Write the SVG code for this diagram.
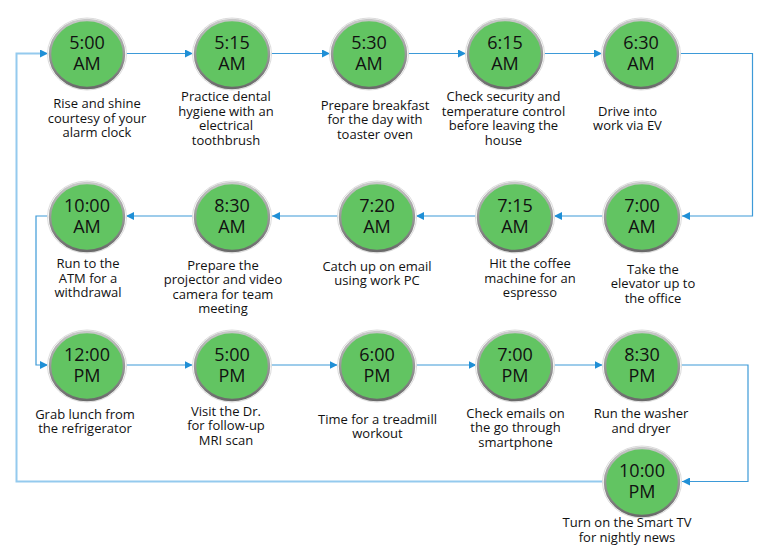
<svg xmlns="http://www.w3.org/2000/svg" width="765" height="550" viewBox="0 0 765 550">
<defs>
<linearGradient id="ring" x1="0" y1="0" x2="0" y2="1">
<stop offset="0" stop-color="#c8c8c8"/>
<stop offset="1" stop-color="#6a6a6a"/>
</linearGradient>
<marker id="ah" viewBox="0 0 10 10" refX="10" refY="5" markerWidth="8" markerHeight="8" markerUnits="userSpaceOnUse" orient="auto">
<path d="M0,0 L10,5 L0,10 z" fill="#1f8fd6"/>
</marker>
<ellipse id="node" cx="0" cy="0" rx="37" ry="34"/>
</defs>
<style>
.outer{fill:#fff;stroke:#dcdcdc;stroke-width:1}
.body{fill:#62c462;stroke:url(#ring);stroke-width:2.5}
.time{font-family:"Open Sans","Noto Sans",sans-serif;font-size:18px;fill:#111;text-anchor:middle}
.lbl{font-family:"Open Sans","Noto Sans",sans-serif;font-size:13px;fill:#111;text-anchor:middle}
.con{fill:none;stroke:#3d9ad8;stroke-width:1.2}
.con2{fill:none;stroke:#94caee;stroke-width:2}
</style>
<rect width="765" height="550" fill="#fff"/>
<g id="connectors">
<path class="con" d="M126,53.5 H193" marker-end="url(#ah)"/>
<path class="con" d="M271,53.5 H330" marker-end="url(#ah)"/>
<path class="con" d="M408,53.5 H466" marker-end="url(#ah)"/>
<path class="con" d="M544,53.5 H602" marker-end="url(#ah)"/>
<path class="con" d="M680,53.5 H752.5 V216 H682" marker-end="url(#ah)"/>
<path class="con" d="M603,216 H554" marker-end="url(#ah)"/>
<path class="con" d="M476,216 H416" marker-end="url(#ah)"/>
<path class="con" d="M338,216 H272" marker-end="url(#ah)"/>
<path class="con" d="M193,216 H126" marker-end="url(#ah)"/>
<path class="con" d="M48,216 H36 V365 H48" marker-end="url(#ah)"/>
<path class="con" d="M126,365 H192.5" marker-end="url(#ah)"/>
<path class="con" d="M271,365 H337.5" marker-end="url(#ah)"/>
<path class="con" d="M416,365 H476.5" marker-end="url(#ah)"/>
<path class="con" d="M554,365 H602.5" marker-end="url(#ah)"/>
<path class="con" d="M681,365 H748 V481.5 H682" marker-end="url(#ah)"/>
<path class="con2" d="M603,481.5 H16.5 V53.5 H40"/>
<path class="con" d="M40,53.5 H48" marker-end="url(#ah)"/>
</g>
<g id="n1" transform="translate(87,54)"><ellipse class="outer" rx="39.5" ry="36"/><use href="#node" class="body"/><text class="time" y="-5">5:00</text><text class="time" y="15.5">AM</text></g>
<g id="n2" transform="translate(232,54)"><ellipse class="outer" rx="39.5" ry="36"/><use href="#node" class="body"/><text class="time" y="-5">5:15</text><text class="time" y="15.5">AM</text></g>
<g id="n3" transform="translate(369,54)"><ellipse class="outer" rx="39.5" ry="36"/><use href="#node" class="body"/><text class="time" y="-5">5:30</text><text class="time" y="15.5">AM</text></g>
<g id="n4" transform="translate(505,54)"><ellipse class="outer" rx="39.5" ry="36"/><use href="#node" class="body"/><text class="time" y="-5">6:15</text><text class="time" y="15.5">AM</text></g>
<g id="n5" transform="translate(641,54)"><ellipse class="outer" rx="39.5" ry="36"/><use href="#node" class="body"/><text class="time" y="-5">6:30</text><text class="time" y="15.5">AM</text></g>
<g id="n6" transform="translate(642,217)"><ellipse class="outer" rx="39.5" ry="36"/><use href="#node" class="body"/><text class="time" y="-5">7:00</text><text class="time" y="15.5">AM</text></g>
<g id="n7" transform="translate(515,217)"><ellipse class="outer" rx="39.5" ry="36"/><use href="#node" class="body"/><text class="time" y="-5">7:15</text><text class="time" y="15.5">AM</text></g>
<g id="n8" transform="translate(377,217)"><ellipse class="outer" rx="39.5" ry="36"/><use href="#node" class="body"/><text class="time" y="-5">7:20</text><text class="time" y="15.5">AM</text></g>
<g id="n9" transform="translate(232,217)"><ellipse class="outer" rx="39.5" ry="36"/><use href="#node" class="body"/><text class="time" y="-5">8:30</text><text class="time" y="15.5">AM</text></g>
<g id="n10" transform="translate(87,217)"><ellipse class="outer" rx="39.5" ry="36"/><use href="#node" class="body"/><text class="time" y="-5">10:00</text><text class="time" y="15.5">AM</text></g>
<g id="n11" transform="translate(87,366)"><ellipse class="outer" rx="39.5" ry="36"/><use href="#node" class="body"/><text class="time" y="-5">12:00</text><text class="time" y="15.5">PM</text></g>
<g id="n12" transform="translate(232,366)"><ellipse class="outer" rx="39.5" ry="36"/><use href="#node" class="body"/><text class="time" y="-5">5:00</text><text class="time" y="15.5">PM</text></g>
<g id="n13" transform="translate(377,366)"><ellipse class="outer" rx="39.5" ry="36"/><use href="#node" class="body"/><text class="time" y="-5">6:00</text><text class="time" y="15.5">PM</text></g>
<g id="n14" transform="translate(515,366)"><ellipse class="outer" rx="39.5" ry="36"/><use href="#node" class="body"/><text class="time" y="-5">7:00</text><text class="time" y="15.5">PM</text></g>
<g id="n15" transform="translate(642,366)"><ellipse class="outer" rx="39.5" ry="36"/><use href="#node" class="body"/><text class="time" y="-5">8:30</text><text class="time" y="15.5">PM</text></g>
<g id="n16" transform="translate(642,482)"><ellipse class="outer" rx="39.5" ry="36"/><use href="#node" class="body"/><text class="time" y="-5">10:00</text><text class="time" y="15.5">PM</text></g>
<g id="labels">
<text class="lbl" x="97"><tspan x="97" y="108">Rise and shine</tspan><tspan x="97" y="122.5">courtesy of your</tspan><tspan x="97" y="137">alarm clock</tspan></text>
<text class="lbl"><tspan x="226" y="101">Practice dental</tspan><tspan x="226" y="115.5">hygiene with an</tspan><tspan x="226" y="130">electrical</tspan><tspan x="226" y="144.5">toothbrush</tspan></text>
<text class="lbl"><tspan x="375" y="109.5">Prepare breakfast</tspan><tspan x="375" y="124">for the day with</tspan><tspan x="375" y="138.5">toaster oven</tspan></text>
<text class="lbl"><tspan x="503.5" y="101">Check security and</tspan><tspan x="503.5" y="115.5">temperature control</tspan><tspan x="503.5" y="130">before leaving the</tspan><tspan x="503.5" y="144.5">house</tspan></text>
<text class="lbl"><tspan x="627.5" y="115.5">Drive into</tspan><tspan x="627.5" y="130">work via EV</tspan></text>
<text class="lbl"><tspan x="88" y="268">Run to the</tspan><tspan x="88" y="282.5">ATM for a</tspan><tspan x="88" y="297">withdrawal</tspan></text>
<text class="lbl"><tspan x="223" y="269.5">Prepare the</tspan><tspan x="223" y="284">projector and video</tspan><tspan x="223" y="298.5">camera for team</tspan><tspan x="223" y="313">meeting</tspan></text>
<text class="lbl"><tspan x="377" y="270.5">Catch up on email</tspan><tspan x="377" y="285">using work PC</tspan></text>
<text class="lbl"><tspan x="530" y="268">Hit the coffee</tspan><tspan x="530" y="282.5">machine for an</tspan><tspan x="530" y="297">espresso</tspan></text>
<text class="lbl"><tspan x="653" y="273.5">Take the</tspan><tspan x="653" y="288">elevator up to</tspan><tspan x="653" y="302.5">the office</tspan></text>
<text class="lbl"><tspan x="85" y="418.5">Grab lunch from</tspan><tspan x="85" y="433">the refrigerator</tspan></text>
<text class="lbl"><tspan x="226" y="415.5">Visit the Dr.</tspan><tspan x="226" y="430">for follow-up</tspan><tspan x="226" y="444.5">MRI scan</tspan></text>
<text class="lbl"><tspan x="377.5" y="423.5">Time for a treadmill</tspan><tspan x="377.5" y="438">workout</tspan></text>
<text class="lbl"><tspan x="515.5" y="417.5">Check emails on</tspan><tspan x="515.5" y="432">the go through</tspan><tspan x="515.5" y="446.5">smartphone</tspan></text>
<text class="lbl"><tspan x="641" y="418">Run the washer</tspan><tspan x="641" y="432.5">and dryer</tspan></text>
<text class="lbl"><tspan x="627" y="527">Turn on the Smart TV</tspan><tspan x="627" y="541.5">for nightly news</tspan></text>
</g>
</svg>
